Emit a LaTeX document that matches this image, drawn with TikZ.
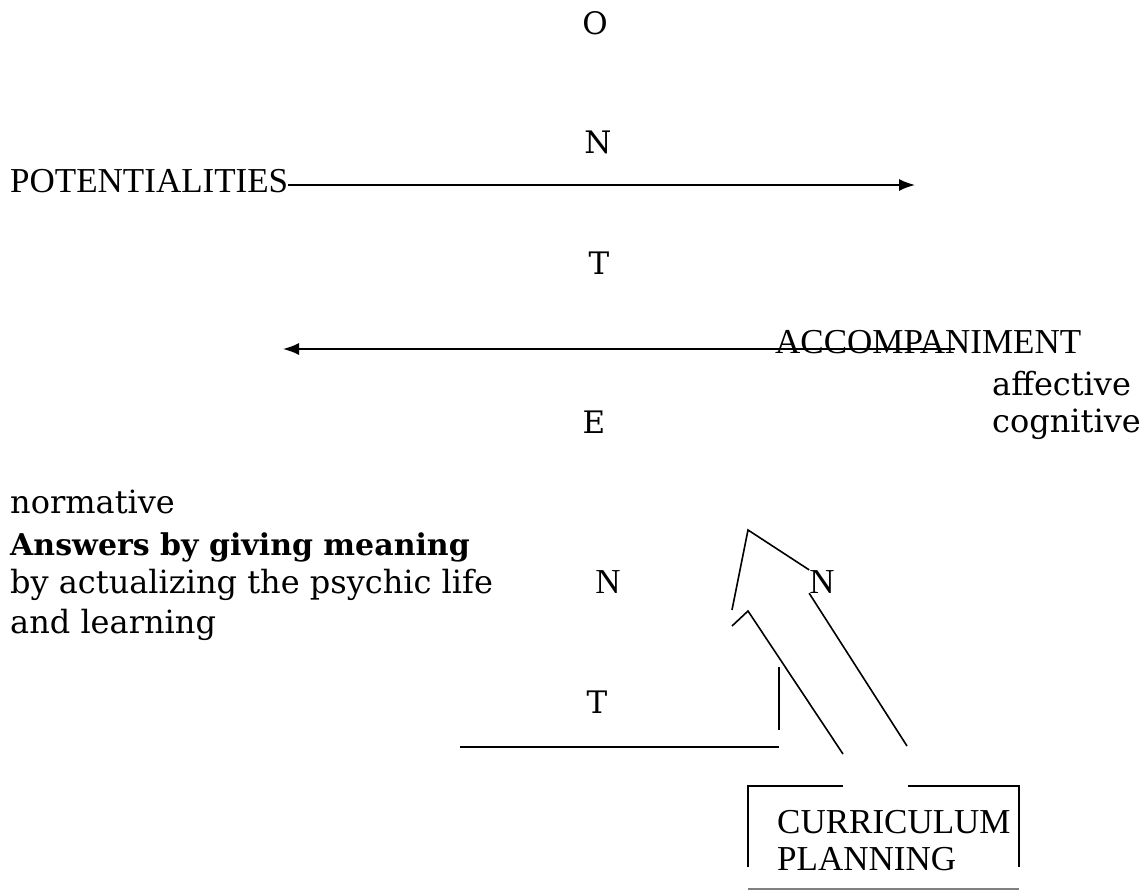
\documentclass[tikz,border=0pt]{standalone}
\usepackage{fontspec}
\setmainfont{Liberation Serif}
\newfontfamily\bookfont{DejaVu Serif}
\usepackage{tikz}
\usetikzlibrary{arrows.meta, positioning}
\tikzstyle{letter} = [inner sep=0pt, anchor=base, font=\bookfont\fontsize{31}{31}\selectfont]
\tikzstyle{thinletter} = [inner sep=0pt, anchor=base, font=\fontsize{35}{35}\selectfont]
\tikzstyle{capsword} = [inner sep=0pt, anchor=base west, font=\fontsize{35}{37}\selectfont]
\tikzstyle{plain} = [inner sep=0pt, anchor=base west, font=\bookfont\fontsize{32}{38}\selectfont]
\tikzstyle{strong} = [inner sep=0pt, anchor=base west, font=\bookfont\bfseries\fontsize{30}{38}\selectfont]
\tikzstyle{arrow} = [line width=1.6pt, -{Latex[length=16pt, width=12pt]}]
\tikzstyle{stroke} = [line width=1.6pt]

\begin{document}
\begin{tikzpicture}[x=1pt, y=-1pt]
                \useasboundingbox (0,0) rectangle (1148,890);
                % the word down the middle
                \node (o) [letter] at (595,35) {O};
                \node (n) [letter] at (598,154) {N};
                \node (t) [letter] at (599,275) {T};
                \node (e) [letter] at (594,433) {E};
                \node (nlow) [thinletter] at (608,593) {N};
                \node (tlow) [letter] at (597,713) {T};

                \node (potent) [capsword] at (10,193) {POTENTIALITIES};
                \node (accomp) [capsword] at (775,354) {ACCOMPANIMENT};
                \node (affect) [plain] at (992,395) {affective};
                \node (cognit) [plain] at (992,432) {cognitive};

                \node (norm) [plain] at (10,513) {normative};
                \node (answer) [strong] at (10,555) {Answers by giving meaning};
                \node (actual) [plain] at (10,593) {by actualizing the psychic life};
                \node (learn) [plain] at (10,633) {and learning};

                \node (nright) [thinletter] at (822,593) {N};
                \node (curric) [capsword] at (777,833) {CURRICULUM};
                \node (plan) [capsword] at (777,870) {PLANNING};

                \coordinate (toptip) at (915,185);
                \coordinate (strikeend) at (955,349);
                \coordinate (lefttip) at (283,349);
                \coordinate (bigapex) at (748,530);
                \coordinate (bigfoot) at (732,610);
                \coordinate (smallapex) at (748,611);
                \coordinate (smallfoot) at (732,626);
                \coordinate (innerend) at (843,754);
                \coordinate (outerend) at (907,746);
                \coordinate (vtop) at (779,667);
                \coordinate (corner) at (779,747);
                \coordinate (hleft) at (460,747);

                \draw [arrow] ([yshift=8pt]potent.base east) -- (toptip);
                \draw [arrow] (strikeend) -- (lefttip);

                \draw [stroke] (bigfoot) -- (bigapex) -- (nright.north west);
                \draw [stroke] (nright.south west) -- (outerend);
                \draw [stroke] (smallfoot) -- (smallapex) -- (innerend);
                \draw [stroke] (vtop) -- ([yshift=17pt]corner);
                \draw [stroke] (hleft) -- (corner);

                % box round the planning
                \draw [stroke] (748,867) -- (748,786) -- (843,786);
                \draw [stroke] (908,786) -- (1019,786) -- (1019,867);
                \draw [stroke, gray] (748,889) -- (1019,889);
\end{tikzpicture}
\end{document}
